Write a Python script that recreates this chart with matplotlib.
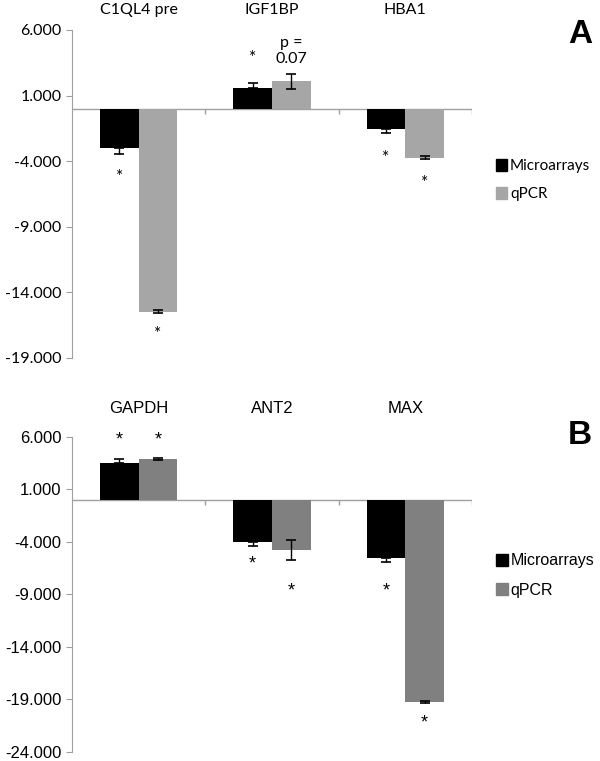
import numpy as np
import matplotlib
matplotlib.use("Agg")
import matplotlib.pyplot as plt
from matplotlib.patches import Patch

# panel A data
genes_a = ["C1QL4 pre", "IGF1BP", "HBA1"]
micro_a = [-2.97, 1.55, -1.52]
micro_a_err = [0.5, 0.38, 0.3]
qpcr_a = [-15.47, 2.1, -3.73]
qpcr_a_err = [0.1, 0.57, 0.1]
star_micro_a = [-5.2, 3.9, -3.75]
star_qpcr_a = [-17.2, None, -5.65]
note_qpcr_a = [None, "p =\n0.07", None]

# panel B data
genes_b = ["GAPDH", "ANT2", "MAX"]
micro_b = [3.5, -4.0, -5.6]
micro_b_err = [0.42, 0.4, 0.3]
qpcr_b = [3.86, -4.8, -19.3]
qpcr_b_err = [0.1, 0.95, 0.1]
star_micro_b = [5.7, -6.1, -8.7]
star_qpcr_b = [5.7, -8.7, -21.3]

yticks_a = [6, 1, -4, -9, -14, -19]
yticks_b = [6, 1, -4, -9, -14, -19, -24]

fig = plt.figure(figsize=(6, 7.61), dpi=100)

axis_gray = "#a0a0a0"
width = 0.29


def panel(ax, genes, micro, micro_err, qpcr, qpcr_err, star_m, star_q, notes,
          qcolor, yticks, font, fsize, leg_size, leg_y, letter, label_pad, letter_y):
    x = np.arange(len(genes))
    # microarray errors go away from zero only
    m_lo = [e if v < 0 else 0 for v, e in zip(micro, micro_err)]
    m_hi = [e if v > 0 else 0 for v, e in zip(micro, micro_err)]
    ax.bar(x - width / 2, micro, width, color="black", zorder=2)
    ax.errorbar(x - width / 2, micro, yerr=[m_lo, m_hi], fmt="none",
                ecolor="black", elinewidth=1, capsize=3.5, capthick=1.2, zorder=3)
    ax.bar(x + width / 2, qpcr, width, color=qcolor, zorder=2)
    ax.errorbar(x + width / 2, qpcr, yerr=qpcr_err, fmt="none",
                ecolor="black", elinewidth=1, capsize=3.5, capthick=1.2, zorder=3)

    ax.set_xlim(-0.5, len(genes) - 0.5)
    ax.set_ylim(yticks[-1], yticks[0])
    ax.set_yticks(yticks)
    ax.set_yticklabels([f"{v:.3f}" for v in yticks], fontsize=fsize, family=font)
    ax.tick_params(axis="y", colors=axis_gray, labelcolor="black", length=4)

    # zero line with category separators
    ax.axhline(0, color=axis_gray, lw=1, zorder=1)
    bounds = np.arange(len(genes) + 1) - 0.5
    ax.vlines(bounds[1:], -0.4 * (yticks[0] - yticks[-1]) / 25, 0,
              color=axis_gray, lw=1)

    for s in ["top", "right", "bottom"]:
        ax.spines[s].set_visible(False)
    ax.spines["left"].set_color(axis_gray)

    ax.xaxis.tick_top()
    ax.set_xticks(x)
    ax.set_xticklabels(genes, fontsize=fsize, family=font)
    ax.tick_params(axis="x", length=0, pad=label_pad)

    for i in range(len(genes)):
        if star_m[i] is not None:
            ax.text(x[i] - width / 2, star_m[i], "*", ha="center", va="center",
                    fontsize=fsize + 1, family=font)
        if star_q[i] is not None:
            ax.text(x[i] + width / 2, star_q[i], "*", ha="center", va="center",
                    fontsize=fsize + 1, family=font)
        if notes is not None and notes[i] is not None:
            ax.text(x[i] + width / 2, 4.4, notes[i], ha="center", va="center",
                    fontsize=fsize, family=font, linespacing=1.25)

    handles = [Patch(color="black", label="Microarrays"),
               Patch(color=qcolor, label="qPCR")]
    ax.legend(handles=handles, loc="upper left", bbox_to_anchor=(1.045, leg_y),
              frameon=False, prop={"family": font, "size": leg_size},
              handlelength=0.7, handleheight=0.8, handletextpad=0.2,
              labelspacing=0.9, borderaxespad=0)
    ax.text(1.27, letter_y, letter, transform=ax.transAxes, fontsize=24,
            fontweight="bold", family="Liberation Sans", ha="center", va="center")


ax_a = fig.add_axes([0.12, 0.5296, 0.6667, 0.431])
panel(ax_a, genes_a, micro_a, micro_a_err, qpcr_a, qpcr_a_err,
      star_micro_a, star_qpcr_a, note_qpcr_a, "#a6a6a6", yticks_a, "Lato",
      11.5, 11, 0.625, "A", 9, 0.985)

ax_b = fig.add_axes([0.12, 0.0122, 0.6667, 0.414])
panel(ax_b, genes_b, micro_b, micro_b_err, qpcr_b, qpcr_b_err,
      star_micro_b, star_qpcr_b, None, "#808080", yticks_b, "Liberation Sans",
      12, 11.5, 0.65, "B", 15, 1.005)

fig.savefig("out.png", dpi=100)
